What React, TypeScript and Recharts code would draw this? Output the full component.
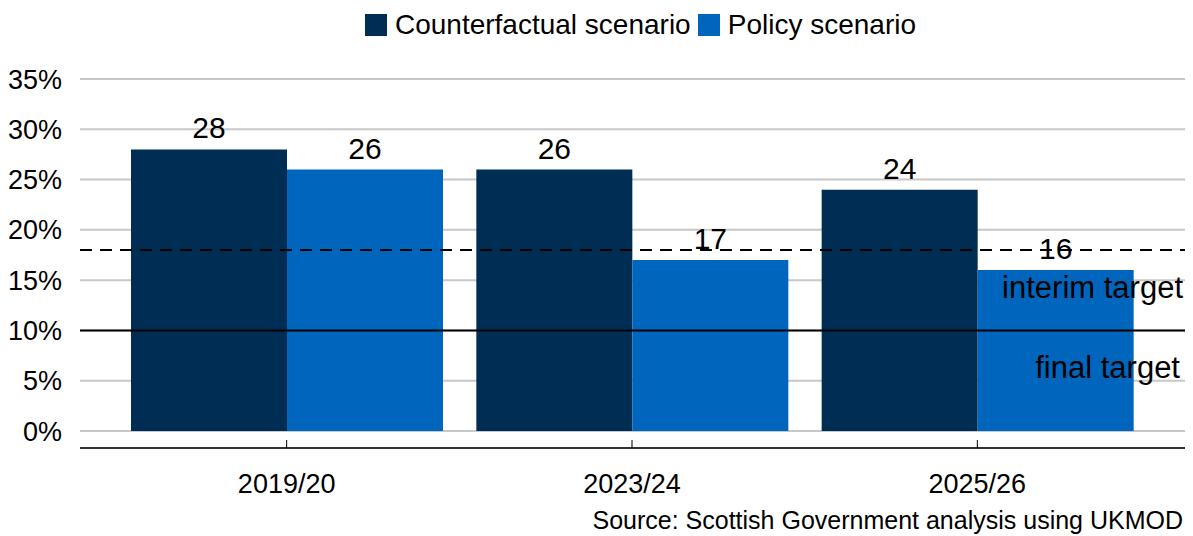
import { BarChart, Bar, XAxis, YAxis, CartesianGrid, ReferenceLine, Legend, LabelList } from 'recharts';

const years = ['2019/20', '2023/24', '2025/26'];
const counterfactual = [28, 26, 24];
const policy = [26, 17, 16];
const yTicks = [0, 5, 10, 15, 20, 25, 30, 35];
const interimTarget = 18;
const finalTarget = 10;

const data = years.map((year, i) => ({
  year,
  counterfactual: counterfactual[i],
  policy: policy[i],
}));

const font = '"Liberation Sans", Arial, sans-serif';
const navy = '#002d54';
const blue = '#0065bd';

function XTick({ x, y, payload }: any) {
  return (
    <g>
      <line x1={x} x2={x} y1={y - 8} y2={y} stroke="#000" strokeWidth={1} />
      <text x={x} y={y + 45} textAnchor="middle" fontSize={27} fill="#000" fontFamily={font}>
        {payload.value}
      </text>
    </g>
  );
}

// text under a target line, right-aligned
function targetLabel(text: string, rightInset: number) {
  return ({ viewBox }: any) => (
    <text
      x={viewBox.x + viewBox.width - rightInset}
      y={viewBox.y + 48}
      textAnchor="end"
      fontSize={31}
      fill="#000"
      fontFamily={font}
    >
      {text}
    </text>
  );
}

function LegendContent() {
  const items = [
    { label: 'Counterfactual scenario', color: navy },
    { label: 'Policy scenario', color: blue },
  ];
  return (
    <div style={{ display: 'flex', justifyContent: 'center', gap: 7, fontFamily: font, fontSize: 28, paddingLeft: 88 }}>
      {items.map((it) => (
        <div key={it.label} style={{ display: 'flex', alignItems: 'center', gap: 8 }}>
          <span style={{ width: 22, height: 22, background: it.color, display: 'inline-block' }} />
          <span>{it.label}</span>
        </div>
      ))}
    </div>
  );
}

export default function App() {
  return (
    <div style={{ position: 'absolute', left: 0, top: 0, width: 1193, height: 536, background: '#fff', overflow: 'hidden' }}>
      <BarChart
        width={1193}
        height={536}
        data={data}
        margin={{ top: 79, right: 8, left: 0, bottom: 28 }}
        barCategoryGap={17}
        barGap={0}
      >
        <CartesianGrid vertical={false} stroke="#c8c8c8" strokeWidth={2} />
        <XAxis
          dataKey="year"
          height={60}
          padding={{ left: 34, right: 35 }}
          axisLine={{ stroke: '#000', strokeWidth: 1.5 }}
          tickLine={false}
          tickSize={0}
          tickMargin={0}
          tick={<XTick />}
        />
        <YAxis
          width={80}
          domain={[-1.69, 35]}
          ticks={yTicks}
          allowDataOverflow
          axisLine={false}
          tickLine={false}
          tickSize={0}
          tickMargin={18}
          tickFormatter={(v) => `${v}%`}
          tick={{ fill: '#000', fontSize: 27, fontFamily: font }}
        />
        <Legend
          verticalAlign="middle"
          align="center"
          layout="horizontal"
          wrapperStyle={{ top: 9, left: 0, width: 1193 }}
          content={<LegendContent />}
        />
        <Bar dataKey="counterfactual" fill={navy} isAnimationActive={false}>
          <LabelList dataKey="counterfactual" position="top" offset={11} fill="#000" fontSize={30} fontFamily={font} />
        </Bar>
        <Bar dataKey="policy" fill={blue} isAnimationActive={false}>
          <LabelList dataKey="policy" position="top" offset={11} fill="#000" fontSize={30} fontFamily={font} />
        </Bar>
        <ReferenceLine
          y={interimTarget}
          stroke="#000"
          strokeWidth={2}
          strokeDasharray="12 8"
          label={targetLabel('interim target', 2)}
        />
        <ReferenceLine
          y={finalTarget}
          stroke="#000"
          strokeWidth={2}
          label={targetLabel('final target', 5)}
        />
      </BarChart>
      <div
        style={{
          position: 'absolute',
          right: 10,
          top: 506,
          fontFamily: font,
          fontSize: 25,
          color: '#000',
          whiteSpace: 'nowrap',
        }}
      >
        Source: Scottish Government analysis using UKMOD
      </div>
    </div>
  );
}
